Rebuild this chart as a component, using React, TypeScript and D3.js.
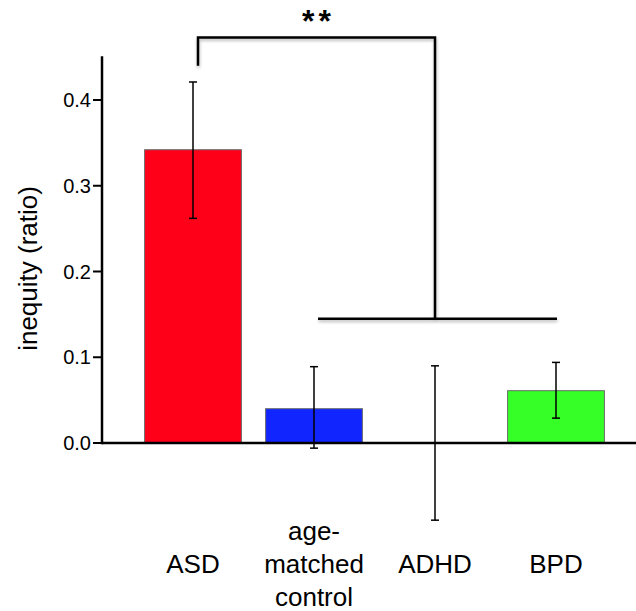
import React from "react";
import * as d3 from "d3";

const categories = ["ASD", "age-matched control", "ADHD", "BPD"];
const labelLines = [["ASD"], ["age-", "matched", "control"], ["ADHD"], ["BPD"]];
const means = [0.342, 0.04, 0.0, 0.061];
const errLow = [0.262, -0.006, -0.09, 0.029];
const errHigh = [0.421, 0.089, 0.09, 0.094];
const colorMap = { ASD: "#ff0019", "age-matched control": "#1126ff", ADHD: "#999999", BPD: "#35ff26" };
const yTicks = [0, 0.1, 0.2, 0.3, 0.4];
const sigLabel = "**";

export default function App() {
  const W = 636, H = 611;
  const x = d3.scaleBand<string>().domain(categories).range([132.5, 616.5]).paddingInner(0.2).paddingOuter(0.1);
  const y = d3.scaleLinear().domain([0, 0.4]).range([443, 100]);
  const cx = (c: string) => (x(c) as number) + x.bandwidth() / 2;
  const font = "'Liberation Sans', Arial, Helvetica, sans-serif";
  const axisX = 102;

  const leftX = cx("ASD") + 5;
  const rightX = cx("ADHD");
  const topY = y(0.473);
  const leftBottom = y(0.44);
  const barY = y(0.145);
  const hLeft = cx("age-matched control") + 4;
  const hRight = cx("BPD") + 1;

  return (
    <svg width={W} height={H} style={{ position: "absolute", left: 0, top: 0, background: "#fff" }} fontFamily={font}>
      <defs>
        <filter id="sh" x="-10%" y="-10%" width="120%" height="130%">
          <feDropShadow dx="0.5" dy="2" stdDeviation="1.5" floodColor="#000" floodOpacity="0.28" />
        </filter>
      </defs>
      {categories.map((c, i) => {
        const v = means[i];
        if (v <= 0) return null;
        return (
          <rect key={c} x={x(c)} y={y(v)} width={x.bandwidth()} height={y(0) - y(v)}
            fill={(colorMap as any)[c]} stroke="#6a6a6a" strokeWidth={1} />
        );
      })}
      <line x1={axisX} x2={W} y1={y(0)} y2={y(0)} stroke="#000" strokeWidth={2.5} />
      <line x1={axisX} x2={axisX} y1={y(0.451)} y2={y(0) + 1.25} stroke="#000" strokeWidth={2.5} />
      {yTicks.map((t) => (
        <g key={t}>
          <line x1={axisX - 9} x2={axisX} y1={y(t)} y2={y(t)} stroke="#000" strokeWidth={2} />
          <text x={axisX - 11} y={y(t)} dy="0.35em" textAnchor="end" fontSize={20} fill="#000">
            {d3.format(".1f")(t)}
          </text>
        </g>
      ))}
      <text transform={`translate(37, ${(y(0) + y(0.4)) / 2 - 3}) rotate(-90)`} textAnchor="middle" fontSize={26} fill="#000">
        inequity (ratio)
      </text>
      {categories.map((c, i) => {
        const xc = cx(c);
        const cw = 4;
        return (
          <g key={c} stroke="#000" strokeWidth={1.5}>
            <line x1={xc} x2={xc} y1={y(errLow[i])} y2={y(errHigh[i])} />
            <line x1={xc - cw} x2={xc + cw} y1={y(errLow[i])} y2={y(errLow[i])} />
            <line x1={xc - cw} x2={xc + cw} y1={y(errHigh[i])} y2={y(errHigh[i])} />
          </g>
        );
      })}
      <g filter="url(#sh)" stroke="#000" strokeWidth={2.5} fill="none">
        <path d={`M${leftX},${leftBottom} V${topY} H${rightX} V${barY}`} />
        <line x1={hLeft} x2={hRight} y1={barY} y2={barY} />
      </g>
      <text x={(leftX + rightX) / 2 + 2} y={topY - 5} textAnchor="middle" fontSize={32} fontWeight="bold" letterSpacing={4} fill="#000">
        {sigLabel}
      </text>
      {categories.map((c, i) => {
        const lines = labelLines[i];
        const baseIdx = lines.length === 3 ? 1 : 0;
        return (
          <text key={c} textAnchor="middle" fontSize={26} fill="#000">
            {lines.map((l, j) => (
              <tspan key={j} x={cx(c)} y={573 + (j - baseIdx) * 33}>{l}</tspan>
            ))}
          </text>
        );
      })}
    </svg>
  );
}
